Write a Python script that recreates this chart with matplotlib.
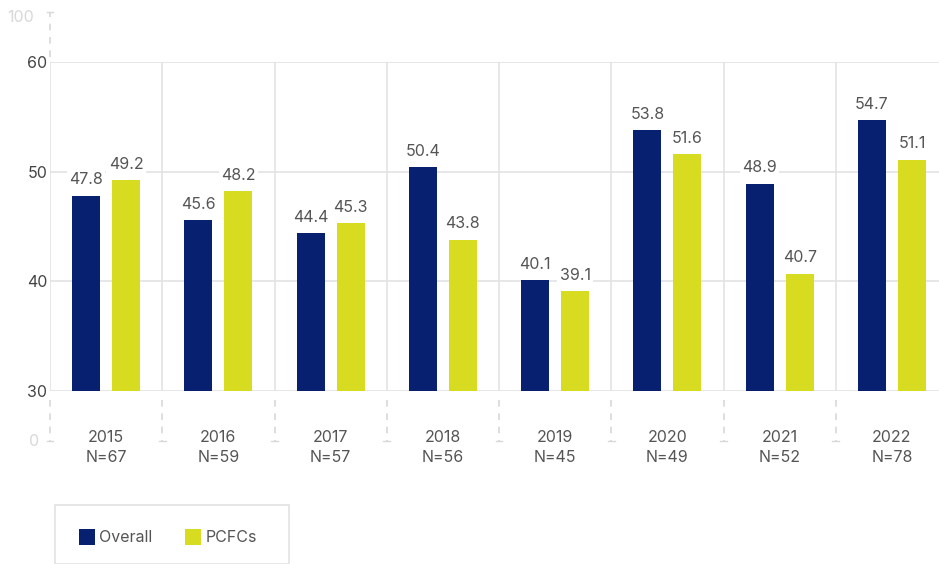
import numpy as np
import matplotlib.pyplot as plt
from matplotlib.patches import Rectangle

plt.rcParams['font.family'] = ['Inter', 'DejaVu Sans']

# Survey results by year
years = ['2015', '2016', '2017', '2018', '2019', '2020', '2021', '2022']
counts = [67, 59, 57, 56, 45, 49, 52, 78]
overall = [47.8, 45.6, 44.4, 50.4, 40.1, 53.8, 48.9, 54.7]
pcfcs = [49.2, 48.2, 45.3, 43.8, 39.1, 51.6, 40.7, 51.1]
yticks = [30, 40, 50, 60]

navy = '#082070'
lime = '#d7dc20'
grid_col = '#e3e3e3'
text_col = '#555555'
fs = 11.5

W, H = 939, 564
fig = plt.figure(figsize=(W / 100, H / 100), dpi=100)

# axes placed in pixel units: plot area spans x 50..948, y 62..391
left, right, top, bottom = 50, 948, 62, 391
ax = fig.add_axes([left / W, 1 - bottom / H, (right - left) / W, (bottom - top) / H])

x = np.arange(len(years))
bw = 28 / 112.25
off = 20 / 112.25
ax.bar(x - off, overall, bw, bottom=0, color=navy, zorder=2, label='Overall')
ax.bar(x + off, pcfcs, bw, bottom=0, color=lime, zorder=2, label='PCFCs')

ax.set_xlim(-0.5, len(years) - 0.5)
ax.set_ylim(30, 60)

# horizontal grid and category dividers
for yv in yticks:
    ax.axhline(yv, color=grid_col, lw=1.2, zorder=1)
for b in np.arange(-0.5, len(years), 1.0):
    ax.axvline(b, color=grid_col, lw=1.2, zorder=1)

for s in ax.spines.values():
    s.set_visible(False)
ax.set_xticks([])
ax.set_yticks(yticks)
ax.set_yticklabels([str(v) for v in yticks], fontsize=fs, color='#444444')
ax.tick_params(axis='y', length=0, pad=2)

# value labels with white backing
for xi, v in zip(x - off, overall):
    ax.annotate(f'{v}', (xi, v), xytext=(0, 6), textcoords='offset points',
                ha='center', va='bottom', fontsize=fs, color=text_col, zorder=3,
                bbox=dict(boxstyle='square,pad=0.15', fc='white', ec='none'))
for xi, v in zip(x + off, pcfcs):
    ax.annotate(f'{v}', (xi, v), xytext=(0, 6), textcoords='offset points',
                ha='center', va='bottom', fontsize=fs, color=text_col, zorder=3,
                bbox=dict(boxstyle='square,pad=0.15', fc='white', ec='none'))

# dashed axis breaks above and below the plot area
def px_to_data(py):
    return 30 + (bottom - py) * 30 / (bottom - top)

dash = dict(color='#d8d8d8', lw=1.2, ls=(0, (4, 4)), clip_on=False, zorder=1)
for b in np.arange(-0.5, len(years), 1.0):
    ax.plot([b, b], [px_to_data(400), px_to_data(441)], **dash)
    ax.plot([b - 0.03, b + 0.03], [px_to_data(441)] * 2, color='#d8d8d8', lw=1, clip_on=False)
ax.plot([-0.5, -0.5], [px_to_data(57), px_to_data(12)], **dash)
ax.plot([-0.53, -0.47], [px_to_data(12)] * 2, color='#d8d8d8', lw=1, clip_on=False)
ax.text(-0.64, px_to_data(18), '100', ha='right', va='center', fontsize=fs, color='#d8d8d8')
ax.text(-0.6, px_to_data(441), '0', ha='right', va='center', fontsize=fs, color='#d8d8d8')

# category labels
for xi, yr, n in zip(x, years, counts):
    ax.text(xi, px_to_data(437), yr, ha='center', va='center', fontsize=fs, color=text_col)
    ax.text(xi, px_to_data(457), f'N={n}', ha='center', va='center', fontsize=fs, color=text_col)

# legend box
fig.patches.append(Rectangle((55 / W, 0), (289 - 55) / W, (H - 505) / H,
                             transform=fig.transFigure, fc='white', ec='#e3e3e3', lw=1.2))
fig.patches.append(Rectangle((79 / W, 1 - 545 / H), 16 / W, 16 / H,
                             transform=fig.transFigure, fc=navy, ec='none'))
fig.text(99 / W, 1 - 537 / H, 'Overall', ha='left', va='center', fontsize=fs, color=text_col)
fig.patches.append(Rectangle((185 / W, 1 - 545 / H), 16 / W, 16 / H,
                             transform=fig.transFigure, fc=lime, ec='none'))
fig.text(206 / W, 1 - 537 / H, 'PCFCs', ha='left', va='center', fontsize=fs, color=text_col)

fig.savefig('out.png', dpi=100)
